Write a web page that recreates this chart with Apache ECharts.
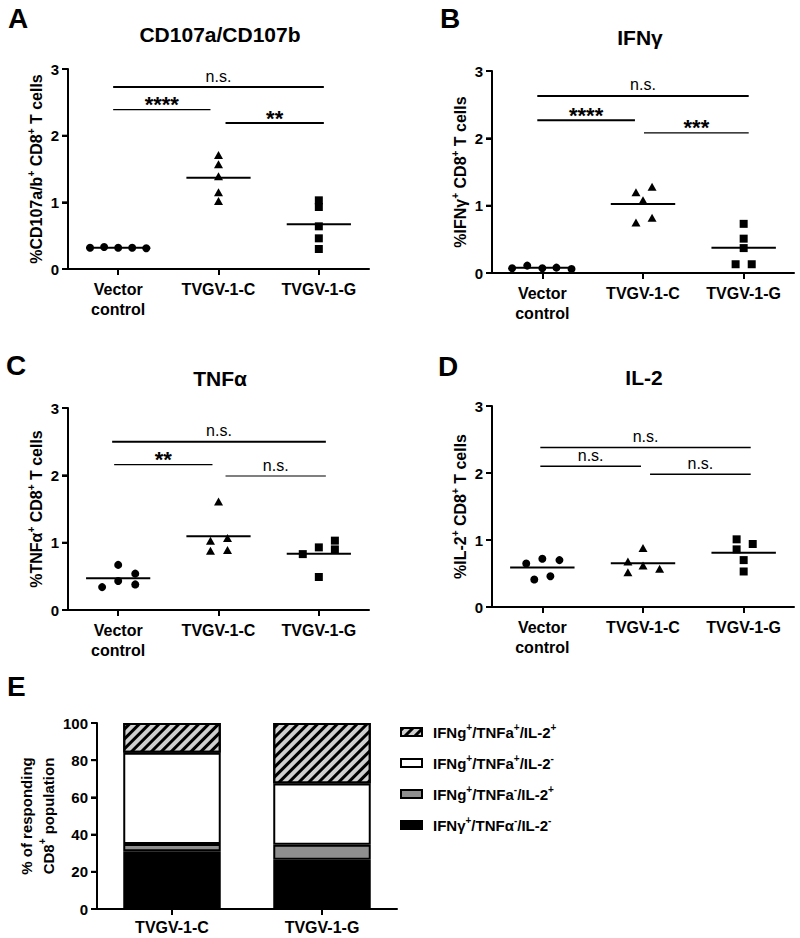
<!DOCTYPE html>
<html><head><meta charset="utf-8">
<script src="https://cdn.jsdelivr.net/npm/echarts@6/dist/echarts.min.js"></script>
<style>html,body{margin:0;padding:0;background:#fff}#c{width:800px;height:938px}</style>
</head><body><div id="c"></div>
<script>
// ---------- DATA ----------
const groups = ['Vector\ncontrol', 'TVGV-1-C', 'TVGV-1-G'];
const yTicksAD = [0, 1, 2, 3];
const yTicksE = [0, 20, 40, 60, 80, 100];

// Panel A: CD107a/CD107b
const aVector = [0.32, 0.33, 0.32, 0.32, 0.31];
const aVectorJit = [-0.28, -0.14, 0, 0.14, 0.28];
const aTvgvC = [1.71, 1.57, 1.39, 1.15, 1.02];
const aTvgvCJit = [0, 0, 0, 0, 0];
const aTvgvG = [1.03, 0.93, 0.64, 0.46, 0.30];
const aTvgvGJit = [0, 0, 0, 0, 0];
const aSig = [[-0.05, 2.05, 2.73, 'n.s.'], [-0.05, 0.92, 2.39, '****'], [1.07, 2.05, 2.19, '**']];

// Panel B: IFNγ
const bVector = [0.07, 0.11, 0.07, 0.08, 0.06];
const bVectorJit = [-0.30, -0.15, 0, 0.14, 0.29];
const bTvgvC = [1.20, 1.28, 1.08, 0.75, 0.82];
const bTvgvCJit = [-0.07, 0.09, 0, -0.07, 0.09];
const bTvgvG = [0.73, 0.51, 0.37, 0.13, 0.13];
const bTvgvGJit = [0, 0, 0, -0.08, 0.08];
const bSig = [[-0.05, 2.05, 2.63, 'n.s.'], [-0.05, 0.92, 2.27, '****'], [1.01, 2.05, 2.08, '***']];

// Panel C: TNFα
const cVector = [0.34, 0.43, 0.67, 0.54, 0.38];
const cVectorJit = [-0.16, 0, 0, 0.17, 0.17];
const cTvgvC = [1.61, 1.03, 1.07, 0.88, 0.89];
const cTvgvCJit = [0, -0.08, 0.09, -0.08, 0.09];
const cTvgvG = [0.83, 0.93, 1.03, 0.90, 0.49];
const cTvgvGJit = [-0.16, 0, 0.16, 0.16, 0];
const cSig = [[-0.06, 2.07, 2.50, 'n.s.'], [-0.04, 0.94, 2.16, '**'], [1.07, 2.07, 1.99, 'n.s.']];

// Panel D: IL-2
const dVector = [0.65, 0.72, 0.70, 0.41, 0.46];
const dVectorJit = [-0.16, 0, 0.17, -0.08, 0.08];
const dTvgvC = [0.88, 0.68, 0.62, 0.57, 0.52];
const dTvgvCJit = [0, -0.15, 0, 0.165, -0.15];
const dTvgvG = [1.01, 0.94, 0.86, 0.70, 0.53];
const dTvgvGJit = [-0.07, 0.09, -0.07, 0, 0];
const dSig = [[-0.02, 2.07, 2.38, 'n.s.'], [-0.02, 0.98, 2.10, 'n.s.'], [1.07, 2.07, 1.98, 'n.s.']];

// Panel E: stacked composition
const eCategories = ['TVGV-1-C', 'TVGV-1-G'];
const eTriple = [16, 32.5];      // IFNg+/TNFa+/IL-2+
const eIfnTnf = [49, 33];        // IFNg+/TNFa+/IL-2-
const eIfnIl2 = [4, 8];          // IFNg+/TNFa-/IL-2+
const eIfnOnly = [31, 26.5];     // IFNγ+/TNFα-/IL-2-
const eNames = ['IFNg+/TNFa+/IL-2+', 'IFNg+/TNFa+/IL-2-', 'IFNg+/TNFa-/IL-2+', 'IFNγ+/TNFα-/IL-2-'];

// ---------- STYLE / LAYOUT ----------
const FONT = '"Liberation Sans", Arial, Helvetica, sans-serif';
const supRich = { s: { fontSize: 10, fontWeight: 'bold', fontFamily: FONT, color: '#000', verticalAlign: 'top', lineHeight: 10 } };
const supify = t => t.replace(/([+\-])(?=\/|\s|$)/g, '{s|$1}');

const panels = [
  { grid: { left: 68, top: 69, width: 301, height: 200 }, yName: '%CD107a/b+ CD8+ T cells', nameGap: 22,
    sets: [[aVector, aVectorJit], [aTvgvC, aTvgvCJit], [aTvgvG, aTvgvGJit]], sig: aSig, sigW: [2, 1.2, 2],
    title: 'CD107a/CD107b', tx: 220, ty: 34, letter: 'A', lx: 8, ly: 18 },
  { grid: { left: 492, top: 71, width: 302, height: 202 }, yName: '%IFNγ+ CD8+ T cells', nameGap: 19,
    sets: [[bVector, bVectorJit], [bTvgvC, bTvgvCJit], [bTvgvG, bTvgvGJit]], sig: bSig, sigW: [2, 2, 1.2],
    title: 'IFNγ', tx: 640, ty: 37, letter: 'B', lx: 440, ly: 18 },
  { grid: { left: 68, top: 408, width: 301, height: 202 }, yName: '%TNFα+ CD8+ T cells', nameGap: 18,
    sets: [[cVector, cVectorJit], [cTvgvC, cTvgvCJit], [cTvgvG, cTvgvGJit]], sig: cSig, sigW: [2, 1.2, 1.2],
    title: 'TNFα', tx: 220, ty: 378, letter: 'C', lx: 6, ly: 365 },
  { grid: { left: 492, top: 406, width: 302, height: 201 }, yName: '%IL-2+ CD8+ T cells', nameGap: 20,
    sets: [[dVector, dVectorJit], [dTvgvC, dTvgvCJit], [dTvgvG, dTvgvGJit]], sig: dSig, sigW: [1.5, 1.5, 1.5],
    title: 'IL-2', tx: 644, ty: 377, letter: 'D', lx: 438, ly: 366 }
];
const symbols = [['circle', 8], ['triangle', [9, 8]], ['rect', 8]];
// group g sits at x = g + 0.5 on a 0..3 value axis, so the y axis is at x = 0
const SHIFT = 0.5;
const groupPositions = [0.5, 1.5, 2.5];

const mean = a => a.reduce((s, v) => s + v, 0) / a.length;
const mkAxisLine = () => ({ show: true, lineStyle: { color: '#000', width: 2 } });
const mkTick = () => ({ show: true, length: 6, lineStyle: { color: '#000', width: 2 } });

// y-axis line + ticks drawn through the axis scale (left edge of the grid)
function yAxisLineSeries(axisIndex, ticks, xVal) {
  return { type: 'custom', xAxisIndex: axisIndex, yAxisIndex: axisIndex, z: 10, silent: true, clip: false,
    data: [[xVal, ticks[0]]], encode: { x: 0, y: 1 },
    renderItem: (params, api) => {
      const x0 = params.coordSys.x;
      const yb = api.coord([xVal, ticks[0]])[1];
      const yt = api.coord([xVal, ticks[ticks.length - 1]])[1];
      const children = [{ type: 'line', shape: { x1: x0, y1: yb + 1, x2: x0, y2: yt }, style: { stroke: '#000', lineWidth: 2 } }];
      ticks.forEach(t => {
        const yy = api.coord([xVal, t])[1];
        children.push({ type: 'line', shape: { x1: x0 - 6, y1: yy, x2: x0, y2: yy }, style: { stroke: '#000', lineWidth: 2 } });
      });
      return { type: 'group', children };
    } };
}

const grids = [], xAxes = [], yAxes = [], series = [], graphics = [];

panels.forEach((p, i) => {
  grids.push(Object.assign({}, p.grid));
  xAxes.push({ type: 'value', gridIndex: i, min: 0, max: 3,
    axisLine: mkAxisLine(),
    axisTick: Object.assign(mkTick(), { customValues: groupPositions }),
    axisLabel: { show: true, customValues: groupPositions, formatter: v => groups[Math.round(v - SHIFT)],
      color: '#000', fontSize: 16, fontWeight: 'bold', fontFamily: FONT, margin: 10, lineHeight: 20 },
    splitLine: { show: false } });
  yAxes.push({ type: 'value', gridIndex: i, min: 0, max: 3, interval: 1,
    name: supify(p.yName), nameLocation: 'middle', nameRotate: 90, nameGap: p.nameGap,
    nameTextStyle: { fontSize: 16, fontWeight: 'bold', fontFamily: FONT, color: '#000', lineHeight: 20, rich: supRich },
    axisLine: mkAxisLine(), axisTick: mkTick(),
    axisLabel: { color: '#000', fontSize: 15, fontWeight: 'bold', fontFamily: FONT, margin: 9 },
    splitLine: { show: false } });
  p.sets.forEach(([vals, jit], g) => {
    series.push({ type: 'scatter', xAxisIndex: i, yAxisIndex: i, symbol: symbols[g][0], symbolSize: symbols[g][1],
      itemStyle: { color: '#000', opacity: 1 }, z: 3, silent: true,
      data: vals.map((v, k) => [g + SHIFT + jit[k], v]) });
  });
  series.push({ type: 'custom', xAxisIndex: i, yAxisIndex: i, z: 2, silent: true, clip: false,
    data: p.sets.map((s, g) => [g + SHIFT, mean(s[0])]), encode: { x: 0, y: 1 },
    renderItem: (params, api) => {
      const c = api.value(0), m = api.value(1);
      const a = api.coord([c - 0.32, m]), b = api.coord([c + 0.32, m]);
      return { type: 'line', shape: { x1: a[0], y1: a[1], x2: b[0], y2: b[1] }, style: { stroke: '#000', lineWidth: 2 } };
    } });
  series.push({ type: 'custom', xAxisIndex: i, yAxisIndex: i, z: 2, silent: true, clip: false,
    data: p.sig.map(s => [s[0] + SHIFT, s[1] + SHIFT, s[2]]), encode: { x: [0, 1], y: 2 },
    renderItem: (params, api) => {
      const s = p.sig[params.dataIndex];
      const a = api.coord([api.value(0), api.value(2)]), b = api.coord([api.value(1), api.value(2)]);
      const star = s[3].indexOf('*') >= 0;
      return { type: 'group', children: [
        { type: 'line', shape: { x1: a[0], y1: a[1], x2: b[0], y2: b[1] }, style: { stroke: '#000', lineWidth: p.sigW[params.dataIndex] } },
        { type: 'text', x: (a[0] + b[0]) / 2, y: a[1] - (star ? 5 : 11),
          style: { text: s[3], align: 'center', verticalAlign: 'middle', fill: '#000',
            font: star ? 'bold 22px ' + FONT : '16px ' + FONT } }
      ] };
    } });
  series.push(yAxisLineSeries(i, yTicksAD, SHIFT));
  graphics.push({ type: 'text', x: p.tx, y: p.ty, style: { text: p.title, font: 'bold 21px ' + FONT, fill: '#000', align: 'center', verticalAlign: 'middle' } });
  graphics.push({ type: 'text', x: p.lx, y: p.ly, style: { text: p.letter, font: 'bold 28px ' + FONT, fill: '#000', align: 'left', verticalAlign: 'middle' } });
});

// Panel E
grids.push({ left: 97, top: 723, width: 300, height: 186 });
xAxes.push({ type: 'category', gridIndex: 4, data: eCategories, boundaryGap: true,
  axisLine: mkAxisLine(), axisTick: Object.assign({ alignWithLabel: true }, mkTick()),
  axisLabel: { color: '#000', fontSize: 16, fontWeight: 'bold', fontFamily: FONT, margin: 10, interval: 0 },
  splitLine: { show: false } });
yAxes.push({ type: 'value', gridIndex: 4, min: 0, max: 100, interval: 20,
  name: '% of responding\n' + supify('CD8+ population'), nameLocation: 'middle', nameRotate: 90, nameGap: 31,
  nameTextStyle: { fontSize: 15, fontWeight: 'bold', fontFamily: FONT, color: '#000', lineHeight: 22, rich: supRich },
  axisLine: mkAxisLine(), axisTick: mkTick(),
  axisLabel: { color: '#000', fontSize: 15, fontWeight: 'bold', fontFamily: FONT, margin: 9 },
  splitLine: { show: false } });
const eSeriesDefs = [
  [eNames[3], eIfnOnly, { color: '#000' }],
  [eNames[2], eIfnIl2, { color: '#8f8f8f' }],
  [eNames[1], eIfnTnf, { color: '#fff' }],
  [eNames[0], eTriple, { color: '#cfcfcf', decal: { symbol: 'rect', symbolSize: 1, dashArrayX: [1, 0], dashArrayY: [3, 4], rotation: -Math.PI / 4, color: '#000' } }]
];
eSeriesDefs.forEach(([name, vals, st]) => {
  series.push({ type: 'bar', name, xAxisIndex: 4, yAxisIndex: 4, stack: 'e', barWidth: '65%', silent: true,
    itemStyle: Object.assign({ borderColor: '#000', borderWidth: 2 }, st), data: vals });
});
series.push(yAxisLineSeries(4, yTicksE, 0));
graphics.push({ type: 'text', x: 7, y: 686, style: { text: 'E', font: 'bold 28px ' + FONT, fill: '#000', align: 'left', verticalAlign: 'middle' } });

const chart = echarts.init(document.getElementById('c'), null, { renderer: 'svg', width: 800, height: 938 });
chart.setOption({
  animation: false,
  backgroundColor: '#fff',
  grid: grids, xAxis: xAxes, yAxis: yAxes, series,
  graphic: graphics,
  tooltip: { show: false },
  legend: { show: true, left: 395, top: 717, orient: 'vertical', itemWidth: 21, itemHeight: 8, itemGap: 11,
    selectedMode: false, data: eNames, icon: 'rect',
    formatter: n => supify(n),
    textStyle: { fontSize: 15, fontWeight: 'bold', fontFamily: FONT, color: '#000', lineHeight: 20, padding: [0, 0, 0, 6], rich: supRich } }
});
</script></body></html>
